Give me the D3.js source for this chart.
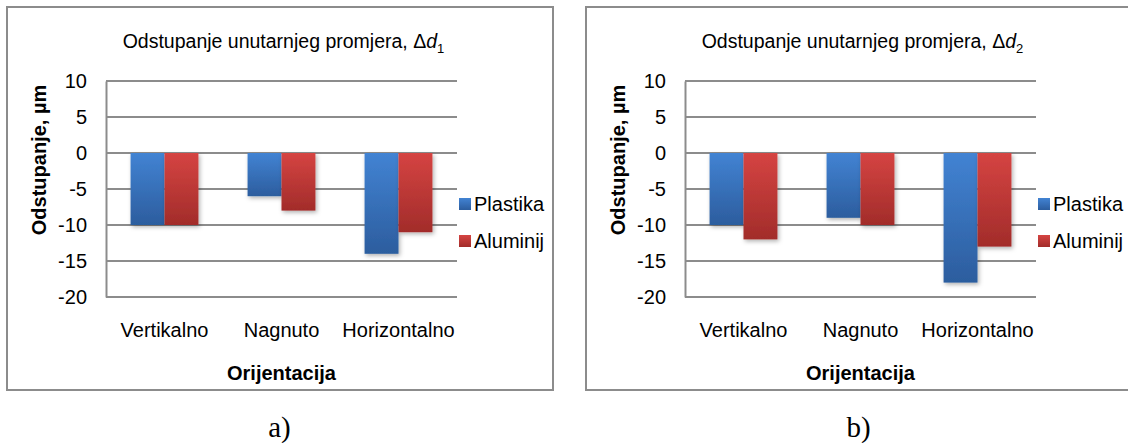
<!DOCTYPE html>
<html>
<head>
<meta charset="utf-8">
<script src="https://cdn.jsdelivr.net/npm/d3@7"></script>
<style>
  body { margin: 0; background: #fff; }
  text { font-family: "Liberation Sans", Arial, sans-serif; fill: #000; }
</style>
</head>
<body>
<svg id="chart" width="1128" height="443"></svg>
<script>
// data
const categories = ['Vertikalno', 'Nagnuto', 'Horizontalno'];
const seriesNames = ['Plastika', 'Aluminij'];
const plastikaA = [-10, -6, -14];
const aluminijA = [-10, -8, -11];
const plastikaB = [-10, -9, -18];
const aluminijB = [-12, -10, -13];
const yTicks = [10, 5, 0, -5, -10, -15, -20];

const panels = [
  {sub: '1', caption: 'a)', left: 7, width: 546, values: [plastikaA, aluminijA]},
  {sub: '2', caption: 'b)', left: 586, width: 560, values: [plastikaB, aluminijB]}
];

const colors = [
  {top: '#4283d3', bottom: '#2c5d9e'},
  {top: '#d54442', bottom: '#a22c2a'}
];

const svg = d3.select('#chart');
const defs = svg.append('defs');

colors.forEach((c, i) => {
  const g = defs.append('linearGradient')
    .attr('id', 'grad' + i)
    .attr('x1', 0).attr('y1', 0).attr('x2', 0).attr('y2', 1);
  g.append('stop').attr('offset', '0%').attr('stop-color', c.top);
  g.append('stop').attr('offset', '100%').attr('stop-color', c.bottom);
});

const shadow = defs.append('filter').attr('id', 'shadow')
  .attr('x', '-20%').attr('y', '-20%').attr('width', '150%').attr('height', '150%');
shadow.append('feDropShadow')
  .attr('dx', 1.5).attr('dy', 2).attr('stdDeviation', 2)
  .attr('flood-color', '#000').attr('flood-opacity', 0.3);

const frameTop = 7, frameBottom = 390;
const plotTop = 81, plotBottom = 297;
const fs = 20;

panels.forEach(p => {
  const g = svg.append('g');

  // outer frame
  g.append('rect')
    .attr('x', p.left).attr('y', frameTop)
    .attr('width', p.width).attr('height', frameBottom - frameTop)
    .attr('fill', '#fff')
    .attr('stroke', '#8c8c8c')
    .attr('stroke-width', 2);

  const x0 = p.left + 99;
  const x1 = x0 + 351;

  const y = d3.scaleLinear().domain([-20, 10]).range([plotBottom, plotTop]);
  const x = d3.scaleBand().domain(categories).range([x0, x1])
    .paddingInner(0.42).paddingOuter(0.21);
  const xs = d3.scaleBand().domain(seriesNames).range([0, x.bandwidth()]);

  // gridlines
  g.selectAll('.grid')
    .data(yTicks)
    .join('line')
    .attr('class', 'grid')
    .attr('x1', x0).attr('x2', x1)
    .attr('y1', d => y(d)).attr('y2', d => y(d))
    .attr('stroke', '#8c8c8c')
    .attr('stroke-width', 2);

  // y axis
  const yAxis = d3.axisLeft(y).tickValues(yTicks).tickSize(0).tickPadding(19)
    .tickFormat(d => String(d));
  const yAxisG = g.append('g')
    .attr('transform', `translate(${x0},0)`)
    .call(yAxis);
  yAxisG.select('.domain').attr('stroke', '#8c8c8c').attr('stroke-width', 2);
  yAxisG.selectAll('text')
    .attr('font-size', fs)
    .attr('font-family', '"Liberation Sans", Arial, sans-serif')
    .attr('fill', '#000');

  // bars
  p.values.forEach((vals, si) => {
    g.selectAll('.bar' + si)
      .data(categories.map((c, i) => ({c, v: vals[i]})))
      .join('rect')
      .attr('class', 'bar' + si)
      .attr('x', d => x(d.c) + xs(seriesNames[si]))
      .attr('width', xs.bandwidth())
      .attr('y', d => y(Math.max(0, d.v)))
      .attr('height', d => Math.abs(y(d.v) - y(0)))
      .attr('fill', `url(#grad${si})`)
      .attr('filter', 'url(#shadow)');
  });

  // category labels
  g.selectAll('.cat')
    .data(categories)
    .join('text')
    .attr('class', 'cat')
    .attr('x', d => x(d) + x.bandwidth() / 2)
    .attr('y', 337)
    .attr('text-anchor', 'middle')
    .attr('font-size', fs)
    .text(d => d);

  // title
  const title = g.append('text')
    .attr('x', (x0 + x1) / 2 + 2)
    .attr('y', 48)
    .attr('text-anchor', 'middle')
    .attr('font-size', 19.5);
  title.append('tspan').text('Odstupanje unutarnjeg promjera, Δ');
  title.append('tspan').attr('font-style', 'italic').text('d');
  title.append('tspan').attr('font-size', 13).attr('dy', 5).text(p.sub);

  // axis titles
  g.append('text')
    .attr('transform', `translate(${p.left + 39},160) rotate(-90)`)
    .attr('text-anchor', 'middle')
    .attr('font-size', fs)
    .attr('font-weight', 'bold')
    .text('Odstupanje, µm');

  g.append('text')
    .attr('x', (x0 + x1) / 2)
    .attr('y', 380)
    .attr('text-anchor', 'middle')
    .attr('font-size', fs)
    .attr('font-weight', 'bold')
    .text('Orijentacija');

  // legend
  const leg = g.append('g').attr('transform', `translate(${x1 + 2},0)`);
  seriesNames.forEach((s, i) => {
    const ly = 204 + i * 37;
    leg.append('rect')
      .attr('x', 0).attr('y', ly - 6)
      .attr('width', 12).attr('height', 12)
      .attr('fill', `url(#grad${i})`);
    leg.append('text')
      .attr('x', 15).attr('y', ly + 7)
      .attr('font-size', fs)
      .text(s);
  });

  // caption
  svg.append('text')
    .attr('x', (x0 + x1) / 2 - 2)
    .attr('y', 437)
    .attr('text-anchor', 'middle')
    .attr('font-size', 29)
    .style('font-family', '"Liberation Serif", "Times New Roman", serif')
    .text(p.caption);
});
</script>
</body>
</html>
